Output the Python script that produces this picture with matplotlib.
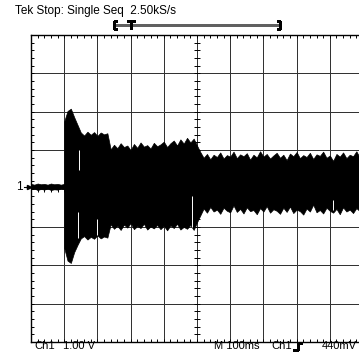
import numpy as np
import matplotlib
matplotlib.use("Agg")
import matplotlib.pyplot as plt
from matplotlib.lines import Line2D

W, H = 359, 353
plt.rcParams['font.family'] = ['Liberation Sans', 'DejaVu Sans']

# screen is 10 x 8 divisions (100 ms/div, 1 V/div)
pre_t = np.round(np.arange(0.0, 1.01, 0.1), 2)
pre_hi = [0.12, 0.10, 0.13, 0.11, 0.12, 0.10, 0.13, 0.11, 0.12, 0.10, 0.12]
pre_lo = [-0.02, 0.00, -0.04, -0.01, -0.03, 0.00, -0.04, -0.02, -0.03, 0.00, -0.02]

burst_t = np.round(np.arange(1.0, 10.01, 0.1), 2)
burst_hi = [1.75, 2.02, 2.08, 1.86, 1.66, 1.46, 1.38, 1.48, 1.40, 1.47,
            1.37, 1.46, 1.41, 1.44,
            1.02, 1.14, 1.05, 1.18, 1.08, 1.12, 1.00, 1.16, 1.06, 1.20,
            1.09, 1.13, 1.04, 1.19, 1.10, 1.15, 1.22, 1.08, 1.18, 1.25,
            1.12, 1.28, 1.17, 1.32, 1.20, 1.30, 1.12,
            0.95, 0.80, 0.90, 0.76, 0.88, 0.82, 0.94, 0.78, 0.87, 0.83,
            0.96, 0.79, 0.89, 0.84, 0.92, 0.75, 0.88, 0.81, 0.97, 0.83,
            0.90, 0.78, 0.86, 0.93, 0.80, 0.88, 0.74, 0.91, 0.84, 0.95,
            0.79, 0.87, 0.82, 0.93, 0.77, 0.89, 0.85, 0.96, 0.80, 0.86,
            0.72, 0.90, 0.83, 0.94, 0.79, 0.88, 0.84, 0.97, 0.81, 0.89]
burst_lo = [-1.55, -1.88, -1.94, -1.66, -1.47, -1.30, -1.24, -1.33, -1.26, -1.31,
            -1.22, -1.30, -1.25, -1.28,
            -0.93, -1.05, -0.97, -1.08, -0.94, -1.02, -0.90, -1.06, -0.98, -1.03,
            -0.92, -1.07, -0.99, -1.04, -0.95, -1.06, -0.97, -1.09, -0.96, -1.03,
            -0.92, -1.07, -1.00, -1.05, -0.95, -1.08, -0.88,
            -0.70, -0.52, -0.63, -0.48, -0.60, -0.55, -0.66, -0.50, -0.58, -0.62,
            -0.44, -0.61, -0.53, -0.65, -0.49, -0.59, -0.56, -0.67, -0.51, -0.60,
            -0.46, -0.63, -0.54, -0.58, -0.66, -0.50, -0.61, -0.47, -0.64, -0.55,
            -0.59, -0.68, -0.52, -0.60, -0.42, -0.62, -0.56, -0.65, -0.50, -0.58,
            -0.63, -0.53, -0.67, -0.49, -0.60, -0.55, -0.64, -0.51, -0.59, -0.62]

# white dropouts inside the trace: time, from, to
gap_t = [1.43, 1.44, 2.00, 4.85, 9.10]
gap_a = [-0.60, 0.48, -0.80, -0.20, -0.30]
gap_b = [-1.30, 1.00, -1.20, -1.00, -0.55]

ground_level = 0.05


def fig_xy(x, y):
    return x / W, 1 - y / H


fig = plt.figure(figsize=(W / 100, H / 100), dpi=100)
ax = fig.add_axes([31 / W, 11 / H, 332 / W, 307 / H])
ax.set_xlim(0, 10)
ax.set_ylim(-4, 4)
ax.set_xticks([])
ax.set_yticks([])
for s in ax.spines.values():
    s.set_linewidth(1.0)
    s.set_color('black')

# graticule
gcol = '#333333'
for gx in range(1, 10):
    ax.axvline(gx, color=gcol, lw=0.72, antialiased=False, zorder=1)
for gy in range(-3, 4):
    ax.axhline(gy, color=gcol, lw=0.72, antialiased=False, zorder=1)

minor_x = np.round(np.arange(0.2, 10, 0.2), 2)
minor_y = np.round(np.arange(-3.8, 4, 0.2), 2)
tx, ty = 0.09, 0.08
tick_kw = dict(color='black', lw=0.7, zorder=2)
ax.vlines(minor_x, 4 - ty, 4, **tick_kw)
ax.vlines(minor_x, -4, -4 + ty, **tick_kw)
ax.vlines(minor_x, -ty, ty, **tick_kw)
ax.hlines(minor_y, 0, tx, **tick_kw)
ax.hlines(minor_y, 5 - tx, 5 + tx, **tick_kw)

# trace
ax.fill_between(pre_t, pre_lo, pre_hi, color='black', lw=0.5, zorder=3)
ax.fill_between(burst_t, burst_lo, burst_hi, color='black', lw=0.5, zorder=3)
ax.vlines(gap_t, gap_a, gap_b, color='white', lw=0.7, zorder=4)

# ground marker
fig.text(*fig_xy(23, 187), '1', ha='right', va='center', fontsize=8.5)
ax.plot([-0.22, -0.03], [ground_level, ground_level], color='black', lw=0.8,
        clip_on=False, zorder=5)
ax.plot([-0.05], [ground_level], marker='>', ms=3, color='black', clip_on=False, zorder=5)

# header
fig.text(*fig_xy(15, 11), 'Tek Stop: Single Seq  2.50kS/s', ha='left', va='center',
         fontsize=8.5)


# record bracket
def fig_line(xs, ys, color='black', lw=0.8):
    fx = [x / W for x in xs]
    fy = [1 - y / H for y in ys]
    fig.add_artist(Line2D(fx, fy, color=color, lw=lw, antialiased=False))


fig_line([114, 280], [25, 25], color='#606060', lw=1.0)
fig_line([116, 114, 114, 116], [21, 21, 29, 29])
fig_line([278, 280, 280, 278], [21, 21, 29, 29])
fig_line([128, 134], [21, 21])
fig_line([131, 131], [21, 28])

# footer
foot_y = 341
fs = 8
fig.text(*fig_xy(34, foot_y), 'Ch1', ha='left', va='top', fontsize=fs)
fig.text(*fig_xy(63, foot_y), '1.00 V', ha='left', va='top', fontsize=fs)
fig.text(*fig_xy(214, foot_y), 'M 100ms', ha='left', va='top', fontsize=fs)
fig.text(*fig_xy(271, foot_y), 'Ch1', ha='left', va='top', fontsize=fs)
fig_line([294, 298, 298, 301], [350, 350, 343, 343])
fig.text(*fig_xy(322, foot_y), '440mV', ha='left', va='top', fontsize=fs)

fig.savefig('out.png', dpi=100)
